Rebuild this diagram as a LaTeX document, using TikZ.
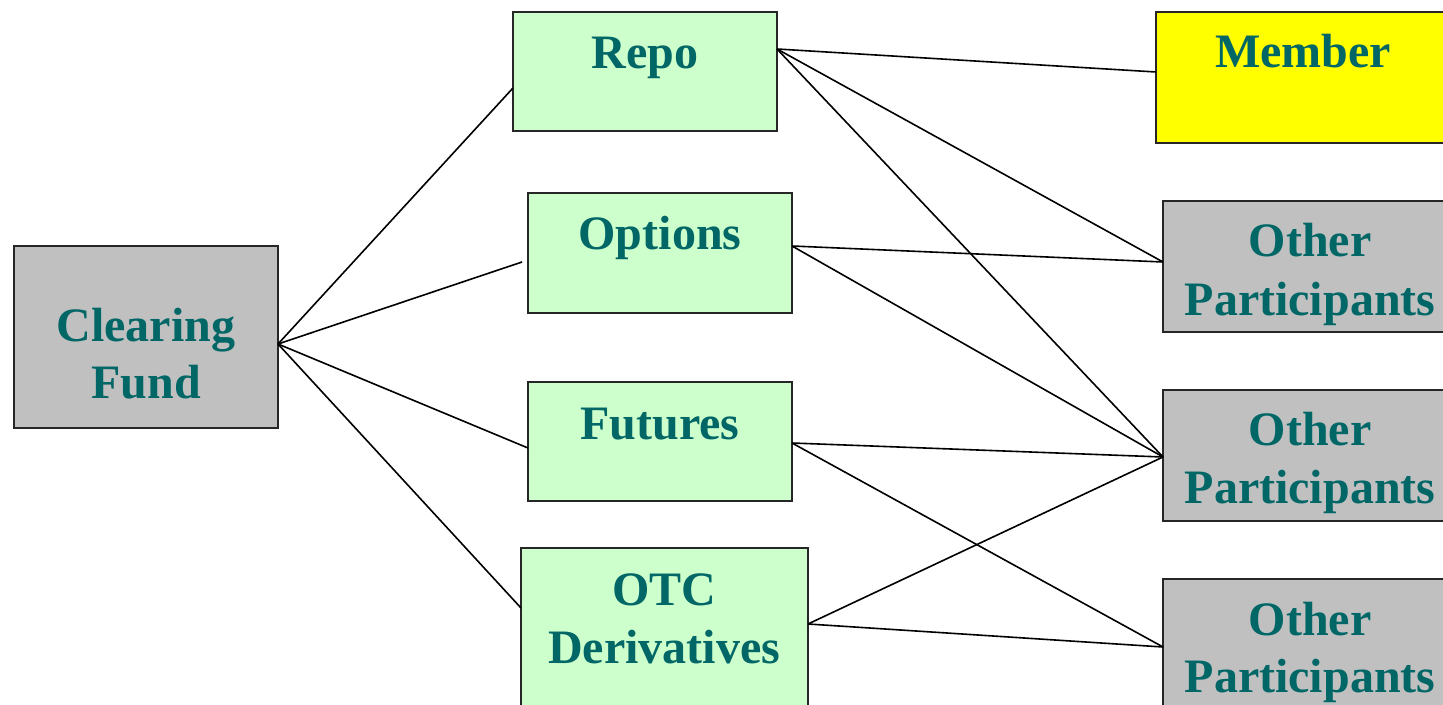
\documentclass[tikz,border=0pt]{standalone}
\usepackage{fontspec}
\setmainfont{Liberation Serif}
\definecolor{tealtext}{HTML}{006666}
\definecolor{greenbox}{HTML}{CCFFCC}
\definecolor{greybox}{HTML}{C0C0C0}
\definecolor{yellowbox}{HTML}{FFFF00}
\tikzset{
  box/.style={draw=black!85, line width=1pt, inner sep=0pt, outer sep=0pt, anchor=north west, rectangle},
  gbox/.style={box, fill=greenbox},
  grbox/.style={box, fill=greybox},
  ybox/.style={box, fill=yellowbox},
  lbl/.style={anchor=base, inner sep=0pt, text=tealtext, font=\fontsize{24pt}{28pt}\selectfont\bfseries},
  conn/.style={draw=black, line width=0.8pt}
}
\begin{document}
\begin{tikzpicture}[x=0.5pt, y=-0.5pt]
\useasboundingbox (0,0) rectangle (1443,705);
\clip (0,0) rectangle (1443,705);
% boxes
\node[grbox, minimum width=132pt, minimum height=91pt] (cf) at (14,246) {};
\node[gbox, minimum width=132pt, minimum height=59.5pt] (repo) at (513,12) {};
\node[gbox, minimum width=132pt, minimum height=60pt] (opt) at (528,193) {};
\node[gbox, minimum width=132pt, minimum height=59.5pt] (fut) at (528,382) {};
\node[gbox, minimum width=143.5pt, minimum height=86pt] (otc) at (521,548) {};
\node[ybox, minimum width=147pt, minimum height=65.5pt] (mem) at (1156,12) {};
\node[grbox, minimum width=147pt, minimum height=65.5pt] (op1) at (1163,201) {};
\node[grbox, minimum width=147pt, minimum height=65.5pt] (op2) at (1163,390) {};
\node[grbox, minimum width=147pt, minimum height=65.5pt] (op3) at (1163,579) {};
% labels
\node[lbl] (t1) at (146,342) {Clearing};
\node[lbl] (t2) at (146,398) {Fund};
\node[lbl] (t3) at (645,69) {Repo};
\node[lbl] (t4) at (660,250) {Options};
\node[lbl] (t5) at (660,439) {Futures};
\node[lbl] (t6) at (664,605) {OTC};
\node[lbl] (t7) at (664,663) {Derivatives};
\node[lbl] (t8) at (1303,68) {Member};
\node[lbl] (t9) at (1310,257) {Other};
\node[lbl] (t10) at (1310,315) {Participants};
\node[lbl] (t11) at (1310,445) {Other};
\node[lbl] (t12) at (1310,503) {Participants};
\node[lbl] (t13) at (1310,635) {Other};
\node[lbl] (t14) at (1310,692) {Participants};
% connector points
\coordinate (cfR) at ([yshift=-49pt]cf.north east);
\coordinate (repoL) at ([yshift=-38pt]repo.north west);
\coordinate (optL) at ([xshift=-3pt,yshift=-34.5pt]opt.north west);
\coordinate (futL) at ([yshift=-33pt]fut.north west);
\coordinate (otcL) at ([yshift=-30pt]otc.north west);
\coordinate (repoR) at ([yshift=-18.5pt]repo.north east);
\coordinate (optR) at ([yshift=-26.5pt]opt.north east);
\coordinate (futR) at ([yshift=-30.5pt]fut.north east);
\coordinate (otcR) at ([yshift=-38pt]otc.north east);
\coordinate (memL) at ([yshift=-30pt]mem.north west);
\coordinate (op1L) at ([yshift=-30.5pt]op1.north west);
\coordinate (op2L) at ([yshift=-33.5pt]op2.north west);
\coordinate (op3L) at ([yshift=-34pt]op3.north west);
% connectors
\draw[conn] (cfR) -- (repoL);
\draw[conn] (cfR) -- (optL);
\draw[conn] (cfR) -- (futL);
\draw[conn] (cfR) -- (otcL);
\draw[conn] (repoR) -- (memL);
\draw[conn] (repoR) -- (op1L);
\draw[conn] (repoR) -- (op2L);
\draw[conn] (optR) -- (op1L);
\draw[conn] (optR) -- (op2L);
\draw[conn] (futR) -- (op2L);
\draw[conn] (futR) -- (op3L);
\draw[conn] (otcR) -- (op2L);
\draw[conn] (otcR) -- (op3L);
\end{tikzpicture}
\end{document}
